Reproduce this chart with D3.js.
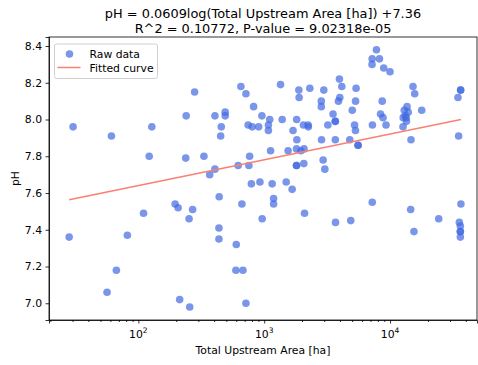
<!DOCTYPE html>
<html>
<head>
<meta charset="utf-8">
<script src="https://cdn.jsdelivr.net/npm/d3@7"></script>
<style>
  body { margin: 0; background: #fff; }
  svg { font-family: "DejaVu Sans", sans-serif; }
</style>
</head>
<body>
<script>
// raw data
var areaHa = [30.3, 61.1, 128, 122, 280, 240, 238, 332, 406, 490, 490, 456, 451, 406, 369,
  653, 716, 824, 746, 803, 904, 766, 756, 621, 959,
  28.2, 56.4, 66.9, 81.8, 110, 196, 207, 270, 253, 213, 256, 439, 437, 437, 665, 600, 596, 678, 716,
  791, 925, 964, 1157, 1496, 1668, 1188, 1188, 2093, 3687, 4875, 7226, 14590, 15490, 24370,
  36580, 35550, 36200, 36200, 36200, 36200,
  1349, 1885, 1895, 2305, 2977, 2844, 2844, 3961, 4138, 3990, 3890, 3524, 3673, 3673, 3204,
  5373, 5324, 5012, 5226, 5312, 4786, 5572, 5572, 3673, 2856, 2940, 3033, 2073, 1955, 1807, 1549,
  1818, 1695, 1811, 2051, 2234, 2243, 1390, 1106, 1080, 1080, 1124, 1807, 1807, 2065,
  7211, 7798, 8241, 7194, 8912, 10000, 8670, 8405, 8797, 9290, 7244,
  15230, 15700, 13650, 12970, 13940, 13210, 12730, 13460, 13500, 12680, 17850, 14680,
  36390, 36390, 34670, 35080];
var phValues = [7.96, 7.91, 7.96, 7.80, 8.15, 8.02, 7.79, 7.80, 8.02, 8.04, 8.02, 7.96, 7.91, 7.73, 7.70,
  8.18, 8.14, 8.07, 7.97, 7.96, 7.96, 7.80, 7.75, 7.75, 8.02,
  7.36, 7.06, 7.18, 7.37, 7.49, 7.54, 7.52, 7.51, 7.46, 7.02, 6.98, 7.58, 7.41, 7.35, 7.54, 7.32, 7.18, 7.18, 7.00,
  7.65, 7.66, 7.46, 7.65, 7.66, 7.62, 7.57, 7.54, 7.49, 7.44, 7.45, 7.55, 7.51, 7.39, 7.46,
  7.54, 7.44, 7.42, 7.39, 7.39, 7.36,
  8.19, 8.16, 8.12, 8.17, 8.16, 8.10, 8.07, 8.22, 8.18, 8.12, 8.10, 8.03, 7.99, 7.99, 7.97,
  8.17, 8.10, 8.05, 7.97, 7.94, 7.89, 7.86, 7.86, 7.89, 7.89, 7.78, 7.73, 7.84, 7.83, 7.84, 7.83,
  7.89, 7.94, 8.00, 7.97, 7.97, 7.96, 8.00, 8.00, 7.97, 7.94, 7.83, 7.75, 7.75, 7.76,
  8.33, 8.38, 8.33, 8.30, 8.28, 8.26, 8.10, 8.03, 8.01, 7.97, 7.97,
  8.18, 8.14, 8.07, 8.05, 8.04, 8.02, 8.01, 8.01, 7.99, 7.96, 8.05, 7.89,
  8.16, 8.16, 8.12, 7.91];

// fitted curve: pH = a*ln(area) + b
var fitSlope = 0.0609;
var fitIntercept = 7.36;

var titleLines = ["pH = 0.0609log(Total Upstream Area [ha]) +7.36",
                  "R^2 = 0.10772, P-value = 9.02318e-05"];
var yTicks = [7.0, 7.2, 7.4, 7.6, 7.8, 8.0, 8.2, 8.4];
var xMajor = [100, 1000, 10000];

var W = 478, H = 365;
var margin = { top: 37, right: 1, bottom: 45, left: 49 };
var width = W - margin.left - margin.right;
var height = H - margin.top - margin.bottom;
var fs = '10.8px';

var svg = d3.select('body').append('svg').attr('width', W).attr('height', H);

var x = d3.scaleLog().domain([19.5, 49100]).range([0, width]);
var y = d3.scaleLinear().domain([6.909, 8.449]).range([height, 0]);

var g = svg.append('g').attr('transform', 'translate(' + margin.left + ',' + margin.top + ')');

var data = areaHa.map(function (a, i) { return { a: a, ph: phValues[i] }; });

// points
g.selectAll('circle.pt').data(data).enter().append('circle')
  .attr('class', 'pt')
  .attr('cx', function (d) { return x(d.a); })
  .attr('cy', function (d) { return y(d.ph); })
  .attr('r', 3.8)
  .style('fill', '#4169e1')
  .style('opacity', 0.7);

// fitted line over the data range
var ext = d3.extent(areaHa);
var fit = ext.map(function (a) { return { a: a, ph: fitSlope * Math.log(a) + fitIntercept }; });
var line = d3.line().x(function (d) { return x(d.a); }).y(function (d) { return y(d.ph); });
g.append('path').datum(fit).attr('d', line)
  .style('fill', 'none').style('stroke', '#fa8072').style('stroke-width', 1.5);

// axes
var minorTicks = [];
[10, 100, 1000, 10000].forEach(function (dec) {
  for (var k = 2; k <= 9; k++) {
    var v = dec * k;
    if (v >= x.domain()[0] && v <= x.domain()[1]) minorTicks.push(v);
  }
});

g.append('g').attr('transform', 'translate(0,' + height + ')')
  .call(d3.axisBottom(x).tickValues(xMajor).tickSize(3.5).tickFormat(function () { return ''; }));
g.append('g').attr('transform', 'translate(0,' + height + ')')
  .call(d3.axisBottom(x).tickValues(minorTicks).tickSize(2).tickFormat(function () { return ''; }))
  .select('.domain').remove();

// 10^n labels
xMajor.forEach(function (v) {
  var t = g.append('text').attr('x', x(v)).attr('y', height + 17.5)
    .attr('text-anchor', 'middle').style('font-size', fs).style('fill', '#000');
  t.append('tspan').text('10');
  t.append('tspan').attr('dy', -4.5).style('font-size', '7.5px').text(Math.round(Math.log10(v)));
});

g.append('g')
  .call(d3.axisLeft(y).tickValues(yTicks).tickSize(3.5).tickPadding(3.5).tickFormat(d3.format('.1f')))
  .selectAll('text').style('font-size', fs).style('fill', '#000').style('font-family', '"DejaVu Sans", sans-serif');

g.selectAll('.domain').style('stroke', '#000').style('stroke-width', 0.8);
g.selectAll('.tick line').style('stroke', '#000').style('stroke-width', 0.8);

// frame
g.append('rect').attr('x', 0).attr('y', 0).attr('width', width).attr('height', height)
  .style('fill', 'none').style('stroke', '#000').style('stroke-width', 0.8);

// axis labels
svg.append('text').attr('x', margin.left + width / 2).attr('y', 354)
  .attr('text-anchor', 'middle').style('font-size', fs).text('Total Upstream Area [ha]');
svg.append('text').attr('transform', 'translate(19,' + (margin.top + height / 2) + ') rotate(-90)')
  .attr('text-anchor', 'middle').style('font-size', fs).text('pH');

// title
svg.selectAll('text.title').data(titleLines).enter().append('text')
  .attr('class', 'title')
  .attr('x', margin.left + width / 2)
  .attr('y', function (d, i) { return 18 + i * 14.5; })
  .attr('text-anchor', 'middle').style('font-size', '12.9px').text(function (d) { return d; });

// legend
var lg = svg.append('g').attr('transform', 'translate(54.5,44)');
lg.append('rect').attr('width', 103).attr('height', 34.5).attr('rx', 2)
  .style('fill', '#fff').style('fill-opacity', 0.8).style('stroke', '#d0d0d0').style('stroke-width', 1);
lg.append('circle').attr('cx', 15).attr('cy', 10).attr('r', 3.8)
  .style('fill', '#4169e1').style('opacity', 0.7);
lg.append('text').attr('x', 35).attr('y', 13.5).style('font-size', fs).text('Raw data');
lg.append('line').attr('x1', 3).attr('x2', 26).attr('y1', 23.5).attr('y2', 23.5)
  .style('stroke', '#fa8072').style('stroke-width', 1.5);
lg.append('text').attr('x', 35).attr('y', 27.5).style('font-size', fs).text('Fitted curve');
</script>
</body>
</html>
